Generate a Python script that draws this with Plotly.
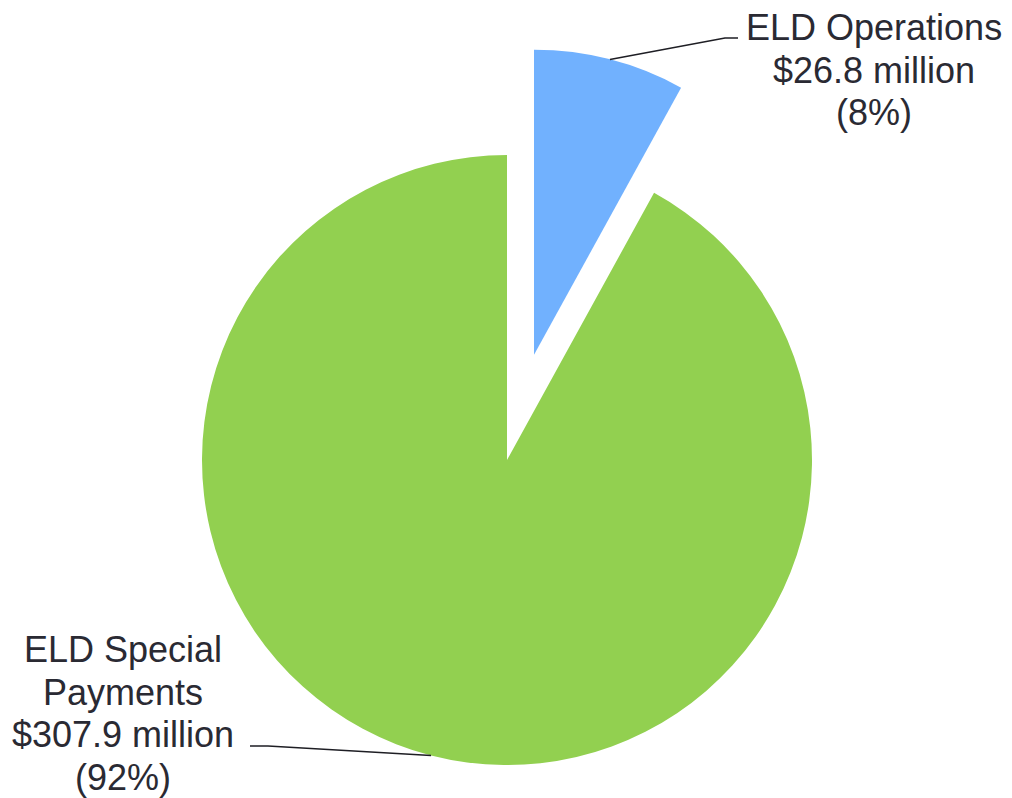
import math
import plotly.graph_objects as go

# ---- data ----
categories = ["ELD Operations", "ELD Special Payments"]
values = [26.8, 307.9]          # $ millions
percents = [8, 92]
label_lines = [
    ["ELD Operations", "$26.8 million", "(8%)"],
    ["ELD Special", "Payments", "$307.9 million", "(92%)"],
]
colors = ["#71B1FE", "#92D050"]

# ---- layout constants (pixels) ----
W, H = 1012, 798
R = 305                  # pie radius
CX, CY = 507, 460        # centre of un-pulled pie
PULL = 0.356             # pull of the ELD Operations slice (fraction of radius)
TEXT_COLOR = "#2A2A33"
FONT = "Liberation Sans, Arial, sans-serif"
FONT_SIZE = 36
LINE_GAP = 42.5

total = sum(values)
# bisector angles (degrees clockwise from 12 o'clock)
mids = []
acc = 0.0
for v in values:
    frac = v / total
    mids.append((acc + frac / 2) * 360)
    acc += frac


def px_to_paper(x, y):
    return x / W, 1 - y / H


def domain_for(cx, cy):
    x0, y0 = px_to_paper(cx - R, cy + R)
    x1, y1 = px_to_paper(cx + R, cy - R)
    return dict(x=[x0, x1], y=[y0, y1])


def edge_point(cx, cy, ang):
    a = math.radians(ang)
    return cx + R * math.sin(a), cy - R * math.cos(a)


# pulled-out slice centre
a0 = math.radians(mids[0])
bx = CX + PULL * R * math.sin(a0)
by = CY - PULL * R * math.cos(a0)

fig = go.Figure()

# main pie (special payments visible)
fig.add_trace(go.Pie(
    labels=categories, values=values, sort=False, direction="clockwise", rotation=0,
    marker=dict(colors=["rgba(0,0,0,0)", colors[1]], line=dict(width=0)),
    textinfo="none", domain=domain_for(CX, CY),
    hovertemplate="%{label}<br>$%{value} million<extra></extra>",
))
# pulled slice (operations visible)
fig.add_trace(go.Pie(
    labels=categories, values=values, sort=False, direction="clockwise", rotation=0,
    marker=dict(colors=[colors[0], "rgba(0,0,0,0)"], line=dict(width=0)),
    textinfo="none", domain=domain_for(bx, by),
    hovertemplate="%{label}<br>$%{value} million<extra></extra>",
))

# labels (one annotation per line for tight line spacing)
label_pos = [(874, 70), (123, 713.5)]
for lines, (lx, ly) in zip(label_lines, label_pos):
    n = len(lines)
    for i, txt in enumerate(lines):
        yy = ly + (i - (n - 1) / 2) * LINE_GAP
        px, py = px_to_paper(lx, yy)
        fig.add_annotation(x=px, y=py, xref="paper", yref="paper", text=txt,
                           showarrow=False, xanchor="center", yanchor="middle",
                           align="center",
                           font=dict(size=FONT_SIZE, color=TEXT_COLOR, family=FONT))

# leader lines
sx, sy = edge_point(bx, by, mids[0])
pts1 = [(sx, sy), (725, 38), (738, 38)]
sx2, sy2 = edge_point(CX, CY, mids[1])
pts2 = [(sx2, sy2), (268, 746), (250, 746)]
for pts in (pts1, pts2):
    path = "M " + " L ".join(f"{px_to_paper(x, y)[0]},{px_to_paper(x, y)[1]}" for x, y in pts)
    fig.add_shape(type="path", path=path, xref="paper", yref="paper",
                  line=dict(color="#1E1E24", width=1.5))

fig.update_layout(
    width=W, height=H, margin=dict(l=0, r=0, t=0, b=0),
    paper_bgcolor="white", plot_bgcolor="white", showlegend=False,
)

fig.write_html("out.html")
